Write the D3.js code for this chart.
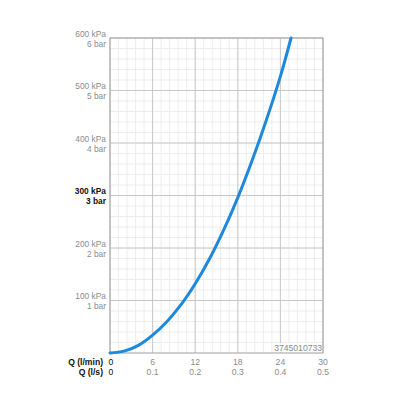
<!DOCTYPE html>
<html><head><meta charset="utf-8">
<script src="https://cdn.jsdelivr.net/npm/d3@7"></script>
<style>body{margin:0;background:#fff}svg{display:block}text{font-family:"Liberation Sans",Arial,sans-serif}</style>
</head><body><svg id="c" width="400" height="400"></svg>
<script>
const flowLpm = [0, 2, 4, 6, 8, 10, 12, 14, 16, 18, 20, 22, 24, 25.5];
const pressureKpa = [0, 3.5, 14.5, 34, 59.5, 92, 132, 179, 234, 296, 366, 443, 527, 600];
const xTicksLpm = [0, 6, 12, 18, 24, 30];
const xTicksLps = ["0", "0.1", "0.2", "0.3", "0.4", "0.5"];
const yTicksKpa = [100, 200, 300, 400, 500, 600];
const yTicksBar = ["1 bar", "2 bar", "3 bar", "4 bar", "5 bar", "6 bar"];
const code = "3745010733";

const svg = d3.select("#c");
const L = 110, R = 323, T = 38, B = 353;
const x = d3.scaleLinear().domain([0, 30]).range([L, R]);
const y = d3.scaleLinear().domain([0, 600]).range([B, T]);

// minor grid
const g = svg.append("g");
g.selectAll(".mx").data(d3.range(0, 30.001, 1.2)).join("line")
  .attr("x1", d => x(d)).attr("x2", d => x(d)).attr("y1", T).attr("y2", B)
  .attr("stroke", "#e8e8e8").attr("stroke-width", 0.8);
g.selectAll(".my").data(d3.range(0, 600.001, 20)).join("line")
  .attr("y1", d => y(d)).attr("y2", d => y(d)).attr("x1", L).attr("x2", R)
  .attr("stroke", "#e8e8e8").attr("stroke-width", 0.8);
// major grid
g.selectAll(".Mx").data(xTicksLpm).join("line")
  .attr("x1", d => x(d)).attr("x2", d => x(d)).attr("y1", T).attr("y2", B)
  .attr("stroke", "#c4c4c4").attr("stroke-width", 0.9);
g.selectAll(".My").data(yTicksKpa).join("line")
  .attr("y1", d => y(d)).attr("y2", d => y(d)).attr("x1", L).attr("x2", R)
  .attr("stroke", "#c4c4c4").attr("stroke-width", 0.9);
// border
svg.append("rect").attr("x", L).attr("y", T).attr("width", R - L).attr("height", B - T)
  .attr("fill", "none").attr("stroke", "#a8a8a8").attr("stroke-width", 1);

// watermark code
const wm = svg.append("g");
wm.append("rect").attr("x", R - 44).attr("y", B - 10).attr("width", 43).attr("height", 9).attr("fill", "#fff").attr("opacity", 0.85);
wm.append("text").attr("x", R - 1).attr("y", B - 2.5).attr("text-anchor", "end")
  .attr("font-size", 8.6).attr("fill", "#8a8a8a").text(code);

// curve
const pts = flowLpm.map((q, i) => [q, pressureKpa[i]]);
svg.append("path").datum(pts)
  .attr("d", d3.line().x(d => x(d[0])).y(d => y(d[1])).curve(d3.curveCatmullRom.alpha(0.5)))
  .attr("fill", "none").attr("stroke", "#1e88dc").attr("stroke-width", 3).attr("stroke-linecap", "round");

// y labels
yTicksKpa.forEach((v, i) => {
  const bold = v === 300;
  svg.append("text").attr("x", L - 4).attr("y", y(v) - 1.5).attr("text-anchor", "end")
    .attr("font-size", 8.4).attr("fill", bold ? "#111" : "#8c8c8c").attr("font-weight", bold ? "bold" : "normal")
    .text(v + " kPa");
  svg.append("text").attr("x", L - 4).attr("y", y(v) + 8.5).attr("text-anchor", "end")
    .attr("font-size", 8.4).attr("fill", bold ? "#111" : "#8c8c8c").attr("font-weight", bold ? "bold" : "normal")
    .text(yTicksBar[i]);
});

// x labels
svg.append("text").attr("x", 103).attr("y", 365).attr("text-anchor", "end").attr("font-size", 8.6)
  .attr("font-weight", "bold").attr("fill", "#111").text("Q (l/min)");
svg.append("text").attr("x", 103).attr("y", 375).attr("text-anchor", "end").attr("font-size", 8.6)
  .attr("font-weight", "bold").attr("fill", "#111").text("Q (l/s)");
xTicksLpm.forEach((v, i) => {
  const zero = i === 0;
  svg.append("text").attr("x", x(v) + (zero ? 1 : 0)).attr("y", 365).attr("text-anchor", "middle")
    .attr("font-size", 8.6).attr("fill", zero ? "#111" : "#8c8c8c").text(v);
  svg.append("text").attr("x", x(v) + (zero ? 1 : 0)).attr("y", 375).attr("text-anchor", "middle")
    .attr("font-size", 8.6).attr("fill", zero ? "#111" : "#8c8c8c").text(xTicksLps[i]);
});
</script></body></html>
